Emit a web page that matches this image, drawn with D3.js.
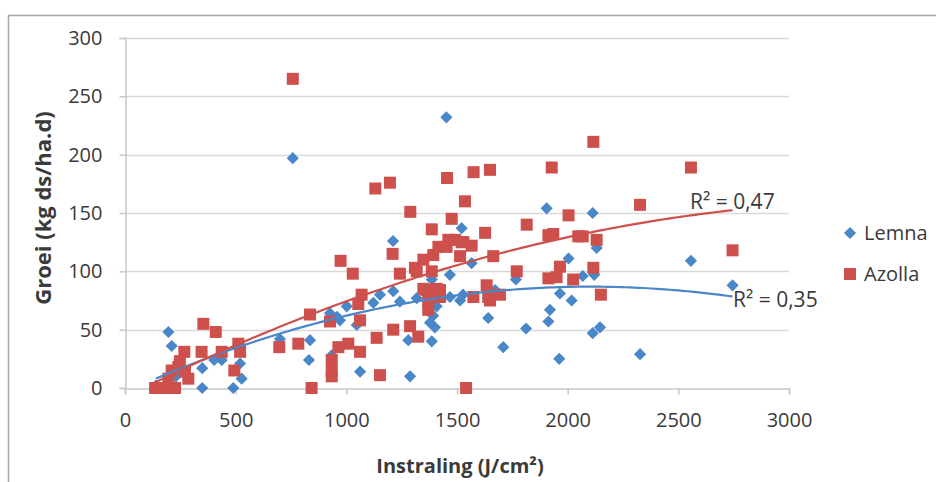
<!DOCTYPE html>
<html>
<head>
<meta charset="utf-8">
<script src="https://cdn.jsdelivr.net/npm/d3@7"></script>
<style>
  body { margin: 0; background: #fff; }
  svg { display: block; font-family: "Open Sans", Lato, sans-serif; }
</style>
</head>
<body>
<svg></svg>
<script>
// chart size
var width = 936;
var height = 482;
var svg = d3.select("svg").attr("width", width).attr("height", height);

// data: [instraling, groei]
var lemna = [
  [140, 2], [196, 48], [211, 36], [230, 10], [349, 17], [349, 0], [403, 24], [437, 24],
  [489, 0], [520, 21], [527, 8], [700, 42], [758, 197], [831, 24], [836, 41], [926, 64],
  [934, 28], [958, 61], [971, 58], [1002, 70], [1047, 54], [1062, 14], [1122, 73], [1152, 80],
  [1211, 126], [1212, 83], [1242, 74], [1280, 41], [1288, 10], [1318, 77], [1378, 56],
  [1386, 93], [1386, 40], [1392, 62], [1395, 75], [1400, 52], [1408, 70], [1452, 232],
  [1468, 97], [1468, 78], [1514, 75], [1521, 137], [1527, 80], [1566, 107], [1634, 87],
  [1641, 60], [1672, 84], [1709, 35], [1766, 93], [1812, 51], [1905, 154], [1913, 57],
  [1920, 67], [1962, 25], [1965, 81], [2004, 111], [2018, 75], [2068, 96], [2113, 150],
  [2113, 47], [2120, 97], [2131, 120], [2146, 52], [2327, 29], [2557, 109], [2745, 88]
];
var azolla = [
  [136, 0], [188, 0], [226, 0], [196, 8], [211, 15], [241, 18], [271, 14], [268, 31],
  [248, 23], [286, 8], [346, 31], [354, 55], [410, 48], [437, 31], [494, 15], [512, 38],
  [520, 31], [697, 35], [758, 265], [783, 38], [836, 63], [843, 0], [926, 57], [934, 24],
  [934, 15], [934, 10], [964, 35], [974, 109], [1009, 38], [1029, 98], [1054, 72], [1069, 80],
  [1062, 58], [1062, 31], [1131, 171], [1137, 43], [1152, 11], [1197, 176], [1209, 115],
  [1212, 50], [1242, 98], [1288, 53], [1289, 151], [1310, 103], [1318, 100], [1325, 44],
  [1348, 110], [1348, 85], [1363, 84], [1370, 75], [1370, 67], [1386, 100], [1386, 136],
  [1393, 114], [1400, 84], [1408, 85], [1416, 121], [1423, 84], [1423, 78], [1453, 121],
  [1455, 180], [1461, 127], [1476, 145], [1491, 127], [1514, 113], [1521, 125], [1529, 125],
  [1536, 160], [1541, 0], [1566, 122], [1574, 78], [1575, 185], [1627, 133], [1634, 88],
  [1641, 78], [1649, 75], [1649, 187], [1664, 113], [1694, 80], [1770, 100], [1815, 140],
  [1913, 131], [1913, 94], [1928, 189], [1935, 132], [1950, 95], [1965, 104], [2004, 148],
  [2025, 93], [2048, 130], [2068, 130], [2116, 211], [2116, 103], [2131, 127], [2150, 80],
  [2327, 157], [2557, 189], [2745, 118]
];
var seriesNames = ["Lemna", "Azolla"];
var seriesColors = ["#4A87C9", "#CD504C"];
var r2Labels = ["R\u00B2 = 0,35", "R\u00B2 = 0,47"];
var xTicks = [0, 500, 1000, 1500, 2000, 2500, 3000];
var yTicks = [0, 50, 100, 150, 200, 250, 300];

// scales
var x = d3.scaleLinear().domain([0, 3000]).range([125, 789]);
var y = d3.scaleLinear().domain([0, 300]).range([388, 38]);

// outer frame (only top and left are inside the picture)
svg.append("path")
  .attr("d", "M8.5," + height + "V15.5H" + width)
  .attr("fill", "none")
  .attr("stroke", "#a6a6a6")
  .attr("stroke-width", 1.5);

// horizontal grid
svg.append("g").selectAll("line")
  .data(yTicks.slice(1))
  .enter().append("line")
  .attr("x1", x(0)).attr("x2", x(3000))
  .attr("y1", d => Math.round(y(d)) + 0.5).attr("y2", d => Math.round(y(d)) + 0.5)
  .attr("stroke", "#d9d9d9").attr("stroke-width", 1.5);

// axes
var xAxis = svg.append("g")
  .attr("transform", "translate(0," + (Math.round(y(0)) + 0.5) + ")")
  .call(d3.axisBottom(x).tickValues(xTicks).tickSize(6).tickPadding(18).tickFormat(d3.format("d")));
var yAxis = svg.append("g")
  .attr("transform", "translate(" + (x(0) + 0.5) + ",0)")
  .call(d3.axisLeft(y).tickValues(yTicks).tickSize(6).tickPadding(17).tickFormat(d3.format("d")));

[xAxis, yAxis].forEach(function (ax) {
  ax.select(".domain").attr("stroke", "#c8c8c8").attr("stroke-width", 1.5);
  ax.selectAll(".tick line").attr("stroke", "#c8c8c8").attr("stroke-width", 1.5);
  ax.selectAll(".tick text")
    .attr("fill", "#3a3a3a")
    .style("font-family", "'Open Sans', Lato, sans-serif")
    .style("font-size", "20px");
});

// axis titles
svg.append("text")
  .attr("x", 460).attr("y", 473)
  .attr("text-anchor", "middle")
  .attr("font-size", "20px").attr("font-weight", "bold").attr("fill", "#3a3a3a")
  .text("Instraling (J/cm\u00B2)");
svg.append("text")
  .attr("transform", "translate(51,208) rotate(-90)")
  .attr("text-anchor", "middle")
  .attr("font-size", "22px").attr("font-weight", "bold").attr("fill", "#3a3a3a")
  .text("Groei (kg ds/ha.d)");

// least squares quadratic fit (like the Excel trendline)
function quadFit(pts) {
  var s = [0, 0, 0, 0, 0], t = [0, 0, 0];
  pts.forEach(function (p) {
    var u = p[0] / 1000;
    for (var k = 0; k < 5; k++) s[k] += Math.pow(u, k);
    for (var k = 0; k < 3; k++) t[k] += p[1] * Math.pow(u, k);
  });
  var m = [[s[0], s[1], s[2], t[0]], [s[1], s[2], s[3], t[1]], [s[2], s[3], s[4], t[2]]];
  for (var i = 0; i < 3; i++) {
    for (var j = i + 1; j < 3; j++) {
      var f = m[j][i] / m[i][i];
      for (var k = i; k < 4; k++) m[j][k] -= f * m[i][k];
    }
  }
  var c = [0, 0, 0];
  for (var i = 2; i >= 0; i--) {
    var v = m[i][3];
    for (var k = i + 1; k < 3; k++) v -= m[i][k] * c[k];
    c[i] = v / m[i][i];
  }
  return function (xv) { var u = xv / 1000; return c[0] + c[1] * u + c[2] * u * u; };
}

var allSeries = [lemna, azolla];

// markers
var diamond = d3.symbol().type(d3.symbolSquare).size(74);
svg.append("g").selectAll("path")
  .data(lemna)
  .enter().append("path")
  .attr("d", diamond)
  .attr("transform", d => "translate(" + x(d[0]) + "," + y(d[1]) + ") rotate(45)")
  .attr("fill", seriesColors[0]);

svg.append("g").selectAll("rect")
  .data(azolla)
  .enter().append("rect")
  .attr("x", d => x(d[0]) - 6).attr("y", d => y(d[1]) - 6)
  .attr("width", 12).attr("height", 12)
  .attr("fill", seriesColors[1]);

// trendlines
var line = d3.line().x(d => x(d[0])).y(d => y(d[1]));
allSeries.forEach(function (pts, i) {
  var fit = quadFit(pts);
  var ext = d3.extent(pts, d => d[0]);
  var curve = d3.range(ext[0], ext[1], 20).concat([ext[1]]).map(v => [v, fit(v)]);
  svg.append("path")
    .attr("d", line(curve))
    .attr("fill", "none")
    .attr("stroke", seriesColors[i])
    .attr("stroke-width", 2.2);
});

// R² labels
svg.append("text").attr("x", 733).attr("y", 307)
  .attr("font-size", "21px").attr("fill", "#3a3a3a").text(r2Labels[0]);
svg.append("text").attr("x", 690).attr("y", 209)
  .attr("font-size", "21px").attr("fill", "#3a3a3a").text(r2Labels[1]);

// legend
var legend = svg.append("g").attr("transform", "translate(850,0)");
legend.append("path")
  .attr("d", diamond)
  .attr("transform", "translate(0,233) rotate(45)")
  .attr("fill", seriesColors[0]);
legend.append("rect")
  .attr("x", -6).attr("y", 268).attr("width", 12).attr("height", 12)
  .attr("fill", seriesColors[1]);
legend.selectAll("text")
  .data(seriesNames)
  .enter().append("text")
  .attr("x", 14).attr("y", (d, i) => 240 + i * 41)
  .attr("font-size", "20px").attr("fill", "#3a3a3a")
  .text(d => d);
</script>
</body>
</html>
